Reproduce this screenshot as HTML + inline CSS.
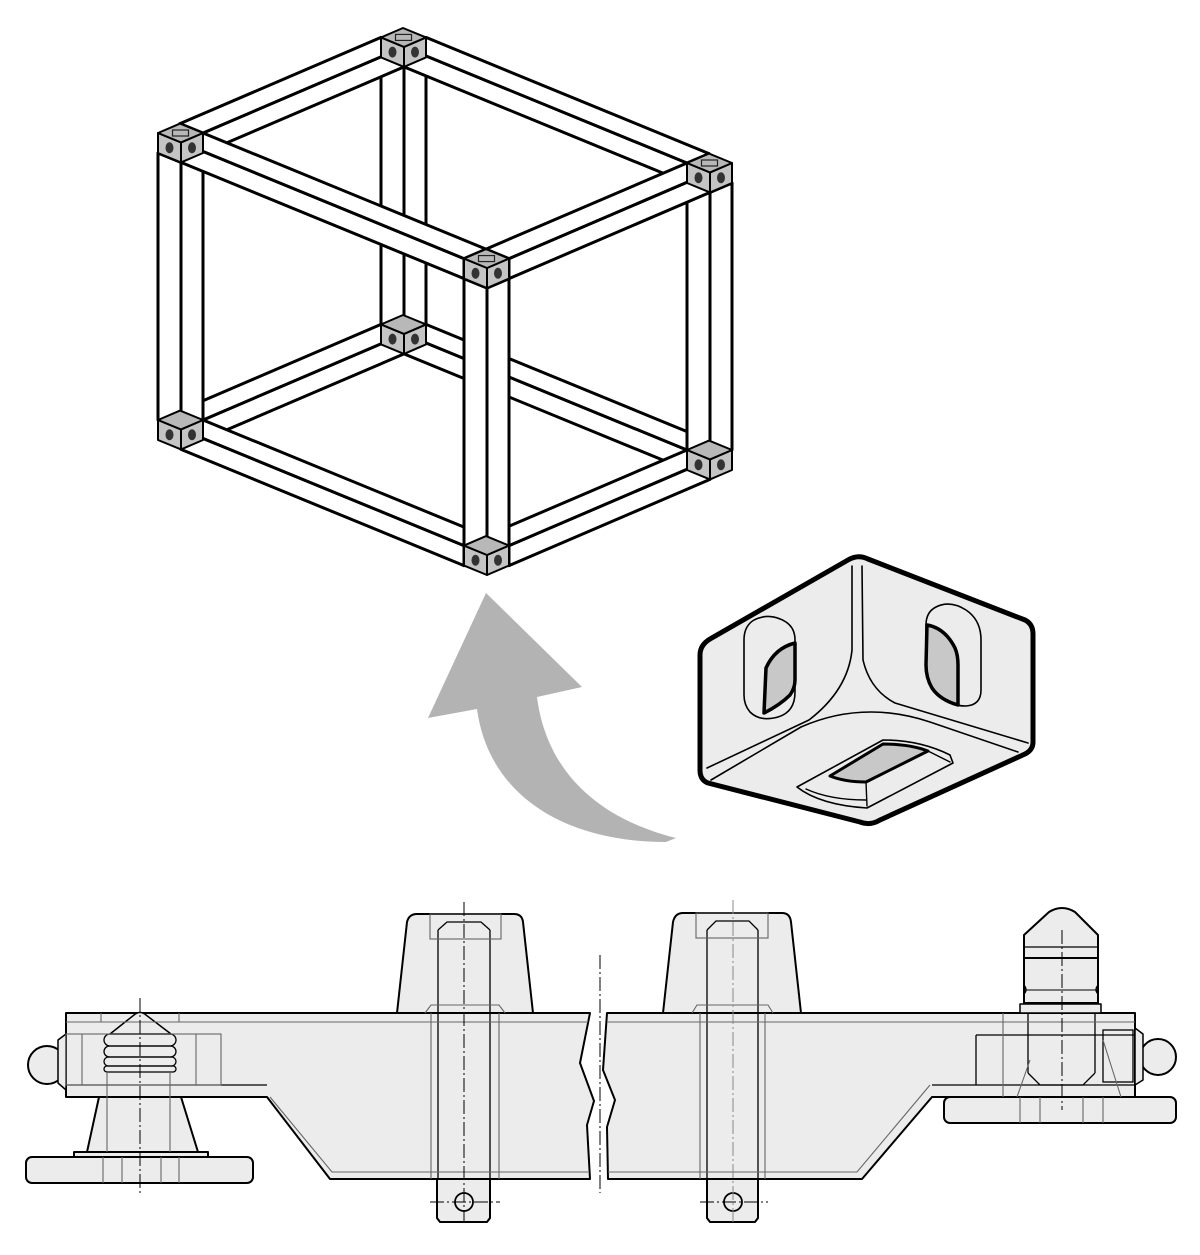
<!DOCTYPE html>
<html><head><meta charset="utf-8"><style>
html,body{margin:0;padding:0;background:#fff;}
svg{display:block;}
</style></head><body>
<svg id="s" width="1200" height="1255" viewBox="0 0 1200 1255" xmlns="http://www.w3.org/2000/svg">
<g id="cube"></g>

<path d="M486,593 L582,687 L537,697 C545,760 585,815 676,838 L666,842 C560,842 488,792 477,709 L428,718 Z" fill="#b3b3b3"/>

<g stroke="#000" stroke-linejoin="round" stroke-linecap="round">
<path d="M700,655 Q700,645 710,639 L848,560 Q858,554 868,559 L1025,620 Q1033,624 1033,634 L1033,742 Q1033,750 1025,754 L880,820 Q870,826 860,822 L708,783 Q700,780 700,770 Z" fill="#ececec" stroke-width="5"/>
<path d="M852,566 L852,650 Q848,690 809,720 L707,768" fill="none" stroke-width="1.6"/>
<path d="M862,566 L863,660 Q870,690 895,703 L1028,743" fill="none" stroke-width="1.6"/>
<path d="M711,780 L801,727 Q835,712 871,712 Q900,712 930,722 L1018,752" fill="none" stroke-width="1.6"/>
<path d="M754,620 Q770,612 786,622 Q795,628 795,640 L795,692 Q795,712 778,717 Q760,722 750,712 Q744,705 744,695 L744,640 Q744,626 754,620 Z" fill="#ececec" stroke-width="1.6"/>
<path d="M795,643 Q775,648 766,668 L764,713 Q780,705 790,695 Q795,688 795,680 Z" fill="#c8c8c8" stroke-width="3.5"/>
<path d="M936,607 Q950,600 966,610 Q981,620 981,640 L981,690 Q981,705 966,706 Q950,706 940,696 Q926,684 926,665 L926,625 Q926,612 936,607 Z" fill="#ececec" stroke-width="1.6"/>
<path d="M927,625 Q945,628 955,648 Q958,655 958,665 L958,705 Q940,700 932,688 Q926,678 926,665 Z" fill="#c8c8c8" stroke-width="3.5"/>
<path d="M797,787 L883,740 Q920,740 950,755 L953,763 L867,808 Q820,805 797,787 Z" fill="#ececec" stroke-width="1.6"/>
<path d="M830,776 L883,744 Q910,744 928,751 L866,782 Q845,782 830,776 Z" fill="#c8c8c8" stroke-width="3"/>
<path d="M866,782 L867,806 M928,751 L950,762 M806,789 Q830,800 866,800" fill="none" stroke-width="1.4"/>
</g>

<g fill="#ececec" stroke="#000" stroke-width="2" stroke-linejoin="round">
<path d="M66,1013 L590,1013 L580,1063 L594,1101 L587,1125 L590,1179 L330,1179 L267,1097 L66,1097 Z"/>
<path d="M99,1097 L87,1152 L198,1152 L181,1097 Z"/>
<rect x="74" y="1152" width="134" height="5"/>
<rect x="26" y="1157" width="227" height="26" rx="6"/>
<circle cx="47" cy="1065" r="19"/>
<path d="M66,1034 L58,1040 L58,1083 L66,1090 Z" stroke-width="1.5"/>
<path d="M110,1034 L134,1015 Q140,1010 146,1015 L171,1034 Z" stroke-width="1.5"/>
<path d="M397,1013 L407,922 Q409,914 417,914 L514,914 Q522,914 523,922 L533,1013 Z"/>
<path d="M437,1179 L437,1218 L440,1222 L487,1222 L490,1218 L490,1179 Z"/>

<path d="M607,1013 L1135,1013 L1135,1097 L932,1097 L862,1179 L608,1179 L607,1127 L615,1100 L603,1070 Z"/>
<rect x="944" y="1097" width="232" height="26" rx="6"/>
<circle cx="1158" cy="1057" r="18"/>
<path d="M1135,1028 L1143,1034 L1143,1080 L1135,1085 Z" stroke-width="1.5"/>
<rect x="1020" y="1004" width="81" height="9" stroke-width="1.5"/>
<path d="M1024,1003 L1024,935 L1049,912 Q1062,904 1075,912 L1098,935 L1098,1003 Z"/>
<path d="M663,1013 L673,922 Q675,913 683,913 L782,913 Q790,913 791,922 L801,1013 Z"/>
<path d="M707,1179 L707,1218 L710,1222 L755,1222 L758,1218 L758,1179 Z"/>
</g>

<g fill="none" stroke="#000" stroke-width="1.3">
<line x1="66" y1="1085" x2="267" y2="1085"/>
<rect x="104" y="1034" width="72" height="12" rx="6"/>
<rect x="104" y="1046" width="72" height="11" rx="5.5"/>
<rect x="104" y="1057" width="72" height="9" rx="4.5"/>
<rect x="104" y="1066" width="72" height="6" rx="3"/>
<line x1="438" y1="930" x2="438" y2="1179"/>
<line x1="490" y1="930" x2="490" y2="1179"/>
<path d="M438,930 L447,922 L481,922 L490,930"/>
<circle cx="464" cy="1202" r="9" stroke-width="1.8"/>
<line x1="932" y1="1085" x2="1135" y2="1085"/>
<line x1="707" y1="930" x2="707" y2="1179"/>
<line x1="758" y1="930" x2="758" y2="1179"/>
<path d="M707,930 L716,921 L749,921 L758,930"/>
<circle cx="733" cy="1202" r="9" stroke-width="1.8"/>
<line x1="1024" y1="947" x2="1098" y2="947"/>
<line x1="1024" y1="958" x2="1098" y2="958" stroke-width="2"/>
<path d="M1024,985 Q1028,990 1024,994 M1098,985 Q1094,990 1098,994"/>
<line x1="1024" y1="990" x2="1098" y2="990" stroke-width="1"/>
<line x1="976" y1="1035" x2="976" y2="1085"/>
<line x1="976" y1="1035" x2="1135" y2="1035"/>
<line x1="1028" y1="1013" x2="1028" y2="1073"/>
<line x1="1095" y1="1013" x2="1095" y2="1073"/>
<path d="M1028,1073 L1040,1085 L1083,1085 L1095,1073"/>
<rect x="1103" y="1030" width="30" height="52"/>
</g>

<g fill="none" stroke="#666" stroke-width="1.1">
<line x1="66" y1="1022" x2="588" y2="1022"/>
<path d="M270,1097 L332,1172 L588,1172"/>
<rect x="66" y="1034" width="155" height="51"/>
<line x1="196" y1="1034" x2="196" y2="1085"/>
<line x1="82" y1="1034" x2="82" y2="1085"/>
<line x1="107" y1="1072" x2="107" y2="1152"/>
<line x1="170" y1="1072" x2="170" y2="1152"/>
<line x1="103" y1="1157" x2="103" y2="1183"/>
<line x1="122" y1="1157" x2="122" y2="1183"/>
<line x1="161" y1="1157" x2="161" y2="1183"/>
<line x1="179" y1="1157" x2="179" y2="1183"/>
<rect x="430" y="914" width="71" height="25"/>
<line x1="431" y1="1013" x2="431" y2="1179"/>
<line x1="499" y1="1013" x2="499" y2="1179"/>
<path d="M425,1013 L431,1005 L499,1005 L505,1013"/>
<line x1="101" y1="1013" x2="101" y2="1022"/>
<line x1="179" y1="1013" x2="179" y2="1022"/>
<line x1="607" y1="1022" x2="1135" y2="1022"/>
<path d="M608,1172 L857,1172 L930,1085"/>
<rect x="696" y="913" width="72" height="25"/>
<line x1="700" y1="1013" x2="700" y2="1179"/>
<line x1="765" y1="1013" x2="765" y2="1179"/>
<path d="M692,1013 L697,1005 L768,1005 L773,1013"/>
<line x1="1003" y1="1013" x2="1003" y2="1097"/>
<line x1="1017" y1="1097" x2="1030" y2="1060"/>
<line x1="1020" y1="1097" x2="1020" y2="1123"/>
<line x1="1040" y1="1097" x2="1040" y2="1123"/>
<line x1="1083" y1="1097" x2="1083" y2="1123"/>
<line x1="1103" y1="1097" x2="1103" y2="1123"/>
<line x1="1103" y1="1040" x2="1121" y2="1097"/>
</g>

<g fill="none" stroke="#000" stroke-width="1" stroke-dasharray="14,3,2,3">
<line x1="140" y1="998" x2="140" y2="1193"/>
<line x1="464" y1="902" x2="464" y2="1222"/>
<line x1="430" y1="1202" x2="500" y2="1202"/>
<line x1="600" y1="955" x2="600" y2="1193"/>
<line x1="733" y1="900" x2="733" y2="1222" stroke="#888"/>
<line x1="700" y1="1202" x2="768" y2="1202"/>
<line x1="1062" y1="930" x2="1062" y2="1110"/>
</g>
</svg>
<script>
(function(){
var O=[158,133],X=[329,135],Y=[245,-105],Z=[0,307];
var ta=23/329,tb=22/245,tc=20/307;
function P(a,b,c){return [O[0]+a*X[0]+b*Y[0]+c*Z[0],O[1]+a*X[1]+b*Y[1]+c*Z[1]];}
var boxes=[];
function add(a0,a1,b0,b1,c0,c1,node){boxes.push({a0:a0,a1:a1,b0:b0,b1:b1,c0:c0,c1:c1,node:node});}
var As=[0,1-ta],Bs=[0,1-tb],Cs=[0,1-tc];
As.forEach(function(a){Bs.forEach(function(b){Cs.forEach(function(c){add(a,a+ta,b,b+tb,c,c+tc,true);});});});
Bs.forEach(function(b){Cs.forEach(function(c){add(ta,1-ta,b,b+tb,c,c+tc,false);});});
As.forEach(function(a){Cs.forEach(function(c){add(a,a+ta,tb,1-tb,c,c+tc,false);});});
As.forEach(function(a){Bs.forEach(function(b){add(a,a+ta,b,b+tb,tc,1-tc,false);});});
boxes.forEach(function(x){x.k=(x.a0+x.a1)/2-(x.b0+x.b1)/2-(x.c0+x.c1)/2+(x.node?0.6:0);});
boxes.sort(function(p,q){return p.k-q.k;});
var g=document.getElementById('cube'),out='';
function poly(pts,fill,sw){return '<polygon points="'+pts.map(function(p){return p[0].toFixed(1)+','+p[1].toFixed(1);}).join(' ')+'" fill="'+fill+'" stroke="#000" stroke-width="'+sw+'" stroke-linejoin="round"/>';}
boxes.forEach(function(x){
 var f=x.node?'#c4c4c4':'#fff',sw=x.node?2:3;
 var top=[P(x.a0,x.b0,x.c0),P(x.a1,x.b0,x.c0),P(x.a1,x.b1,x.c0),P(x.a0,x.b1,x.c0)];
 var front=[P(x.a0,x.b0,x.c0),P(x.a1,x.b0,x.c0),P(x.a1,x.b0,x.c1),P(x.a0,x.b0,x.c1)];
 var right=[P(x.a1,x.b0,x.c0),P(x.a1,x.b1,x.c0),P(x.a1,x.b1,x.c1),P(x.a1,x.b0,x.c1)];
 out+=poly(front,f,sw)+poly(right,f,sw)+poly(top,x.node?'#b8b8b8':'#fff',sw);
 if(x.node){
  var fc=P((x.a0+x.a1)/2,x.b0,(x.c0+x.c1)/2),rc=P(x.a1,(x.b0+x.b1)/2,(x.c0+x.c1)/2);
  out+='<ellipse cx="'+fc[0]+'" cy="'+fc[1]+'" rx="4" ry="5.5" fill="#333"/>';
  out+='<ellipse cx="'+rc[0]+'" cy="'+rc[1]+'" rx="4" ry="5.5" fill="#333"/>';
  if(x.c0===0){var tcn=P((x.a0+x.a1)/2,(x.b0+x.b1)/2,0);
   out+='<rect x="'+(tcn[0]-8)+'" y="'+(tcn[1]-3)+'" width="16" height="6" fill="none" stroke="#222" stroke-width="1.2"/>';}
 }
});
g.innerHTML=out;
})();
</script>
</body></html>
